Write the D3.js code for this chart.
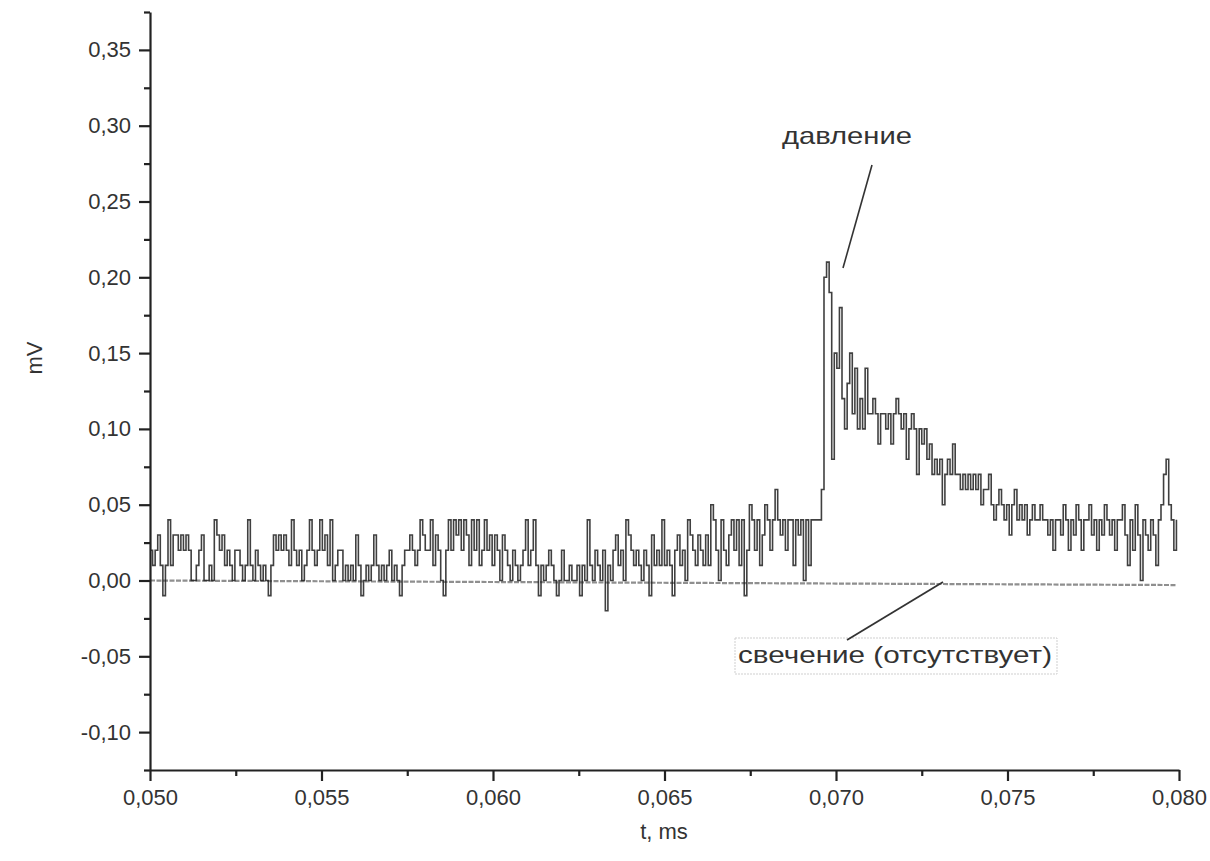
<!DOCTYPE html>
<html>
<head>
<meta charset="utf-8">
<script src="https://cdn.jsdelivr.net/npm/d3@7"></script>
<style>
  html, body { margin: 0; padding: 0; background: #ffffff; }
  svg { display: block; }
  text { font-family: "Liberation Sans", Arial, sans-serif; fill: #333333; }
</style>
</head>
<body>
<svg id="chart" width="1210" height="861"></svg>
<script>
// ---------------- data ----------------
const xDomain = [0.05, 0.08];
const yDomain = [-0.125, 0.375];
const xTickValues = [0.050, 0.055, 0.060, 0.065, 0.070, 0.075, 0.080];
const xMinorTickValues = [0.0525, 0.0575, 0.0625, 0.0675, 0.0725, 0.0775];
const yTickValues = [-0.10, -0.05, 0.00, 0.05, 0.10, 0.15, 0.20, 0.25, 0.30, 0.35];
const yMinorTickValues = [-0.125, -0.075, -0.025, 0.025, 0.075, 0.125, 0.175, 0.225, 0.275, 0.325, 0.375];

// pressure ("давление") sampled from t = 0.050 ms every 0.000075 ms
const pressureStart = 0.05;
const pressureStep = 0.000075;
const pressureValues = [
  0.02,0.01,0.02,0.03,0.01,-0.01,0.01,0.04,0.01,0.03,0.03,0.02,0.03,0.02,0.03,0.02,0.00,0.00,0.01,0.02,
  0.03,0.00,0.00,0.01,0.00,0.04,0.03,0.02,0.03,0.01,0.02,0.01,0.00,0.02,0.02,0.01,0.00,0.01,0.04,0.01,
  0.00,0.02,0.01,0.00,0.01,0.00,-0.01,0.01,0.03,0.02,0.03,0.02,0.03,0.02,0.01,0.04,0.02,0.01,0.02,0.00,
  0.01,0.02,0.04,0.02,0.01,0.02,0.04,0.02,0.03,0.01,0.04,0.00,0.01,0.02,0.02,0.00,0.01,0.00,0.01,0.00,
  0.03,0.01,-0.01,0.00,0.01,0.00,0.01,0.03,0.01,0.00,0.01,0.00,0.01,0.02,0.00,0.01,0.00,-0.01,0.01,0.02,
  0.02,0.03,0.02,0.01,0.02,0.04,0.03,0.02,0.02,0.04,0.01,0.03,0.02,0.00,-0.01,0.02,0.04,0.02,0.04,0.03,
  0.04,0.02,0.04,0.03,0.01,0.04,0.02,0.04,0.01,0.02,0.04,0.02,0.03,0.01,0.03,0.02,0.00,0.03,0.02,0.01,
  0.00,0.02,0.01,0.00,0.01,0.02,0.04,0.01,0.02,0.04,0.01,-0.01,0.01,0.00,0.01,0.02,0.01,0.00,-0.01,0.00,
  0.02,0.00,0.00,0.01,0.00,0.00,0.01,-0.01,0.01,0.00,0.04,0.01,0.00,0.02,0.01,0.00,0.02,-0.02,0.01,0.00,
  0.02,0.03,0.01,0.02,0.00,0.04,0.03,0.02,0.01,0.02,0.01,0.00,0.02,0.01,-0.01,0.03,0.01,0.02,0.01,0.04,
  0.01,0.02,0.01,-0.01,0.02,0.03,0.01,0.02,0.00,0.04,0.03,0.02,0.01,0.03,0.02,0.01,0.03,0.01,0.05,0.04,
  0.02,0.00,0.04,0.02,0.01,0.03,0.04,0.02,0.04,0.01,0.04,-0.01,0.02,0.05,0.04,0.02,0.04,0.01,0.03,0.05,
  0.04,0.02,0.04,0.06,0.04,0.03,0.04,0.02,0.04,0.04,0.01,0.04,0.03,0.04,0.00,0.04,0.01,0.04,0.04,0.04,
  0.04,0.06,0.20,0.21,0.19,0.08,0.15,0.14,0.18,0.12,0.10,0.13,0.15,0.11,0.14,0.10,0.12,0.10,0.14,0.11,
  0.11,0.12,0.11,0.09,0.11,0.11,0.10,0.11,0.09,0.11,0.12,0.11,0.10,0.11,0.08,0.10,0.11,0.10,0.07,0.10,
  0.09,0.10,0.08,0.09,0.07,0.08,0.07,0.08,0.05,0.07,0.08,0.07,0.09,0.07,0.07,0.06,0.07,0.06,0.07,0.06,
  0.07,0.06,0.07,0.05,0.06,0.06,0.07,0.05,0.04,0.05,0.06,0.05,0.04,0.05,0.03,0.05,0.06,0.04,0.05,0.04,
  0.05,0.03,0.04,0.05,0.04,0.04,0.05,0.04,0.04,0.03,0.04,0.02,0.04,0.04,0.03,0.05,0.04,0.02,0.04,0.03,
  0.05,0.04,0.02,0.04,0.04,0.05,0.03,0.04,0.02,0.04,0.03,0.05,0.04,0.03,0.04,0.02,0.04,0.04,0.05,0.03,
  0.01,0.04,0.02,0.05,0.03,0.00,0.04,0.03,0.02,0.04,0.03,0.01,0.04,0.05,0.07,0.08,0.05,0.04,0.02,0.04
];

// glow ("свечение") – flat, essentially absent
const glowTimes  = [0.0500, 0.0600, 0.0700, 0.0799];
const glowValues = [0.000, -0.001, -0.002, -0.003];

const labelPressure = "давление";
const labelGlow = "свечение (отсутствует)";
const xTitle = "t, ms";
const yTitle = "mV";

// ---------------- chart ----------------
const svg = d3.select("#chart");
const x = d3.scaleLinear().domain(xDomain).range([150, 1179]);
const y = d3.scaleLinear().domain(yDomain).range([770, 12]);

const locale = d3.formatLocale({decimal: ",", thousands: " ", grouping: [3], currency: ["", ""], minus: "-"});
const fx = locale.format(".3f");
const fy = locale.format(".2f");

const axisColor = "#222222";
const fontSize = 22;

// glow line
const glowData = glowTimes.map((t, i) => [t, glowValues[i]]);
svg.append("path")
  .datum(glowData)
  .attr("fill", "none")
  .attr("stroke", "#8f8f8f")
  .attr("stroke-width", 2.2)
  .attr("stroke-dasharray", "5,1.5")
  .attr("d", d3.line().x(d => x(d[0])).y(d => y(d[1])));

// pressure line
const pressureData = pressureValues.map((v, i) => [pressureStart + i * pressureStep, v]);
svg.append("path")
  .datum(pressureData)
  .attr("fill", "none")
  .attr("stroke", "#1e1e1e")
  .attr("stroke-opacity", 0.85)
  .attr("stroke-width", 1.6)
  .attr("d", d3.line().curve(d3.curveStepAfter).x(d => x(d[0])).y(d => y(d[1])));

// axes
function styleAxis(g) {
  g.selectAll("path.domain").attr("stroke", axisColor).attr("stroke-width", 2.2);
  g.selectAll(".tick line").attr("stroke", axisColor).attr("stroke-width", 2.2);
  g.selectAll(".tick text").attr("font-size", fontSize).attr("fill", "#333333")
    .attr("font-family", "'Liberation Sans', Arial, sans-serif");
}

const gx = svg.append("g").attr("transform", "translate(0,770)")
  .call(d3.axisBottom(x).tickValues(xTickValues).tickFormat(fx).tickSize(11).tickSizeOuter(0).tickPadding(8));
styleAxis(gx);
const gxm = svg.append("g").attr("transform", "translate(0,770)")
  .call(d3.axisBottom(x).tickValues(xMinorTickValues).tickFormat("").tickSize(6).tickSizeOuter(0));
gxm.select("path.domain").remove();
styleAxis(gxm);

const gy = svg.append("g").attr("transform", "translate(150,0)")
  .call(d3.axisLeft(y).tickValues(yTickValues).tickFormat(fy).tickSize(11).tickSizeOuter(0).tickPadding(8));
styleAxis(gy);
const gym = svg.append("g").attr("transform", "translate(150,0)")
  .call(d3.axisLeft(y).tickValues(yMinorTickValues).tickFormat("").tickSize(6).tickSizeOuter(0));
gym.select("path.domain").remove();
styleAxis(gym);

// axis titles
svg.append("text")
  .attr("x", 664).attr("y", 833)
  .attr("text-anchor", "middle").attr("dominant-baseline", "middle")
  .attr("font-size", fontSize)
  .text(xTitle);

svg.append("text")
  .attr("transform", "translate(36,358) rotate(-90)")
  .attr("text-anchor", "middle").attr("dominant-baseline", "middle")
  .attr("font-size", fontSize)
  .text(yTitle);

// annotations
svg.append("text")
  .attr("x", 847).attr("y", 138)
  .attr("text-anchor", "middle").attr("dominant-baseline", "middle")
  .attr("font-size", 24)
  .attr("textLength", 130).attr("lengthAdjust", "spacingAndGlyphs")
  .text(labelPressure);
svg.append("line")
  .attr("x1", 872).attr("y1", 165).attr("x2", 843).attr("y2", 268)
  .attr("stroke", "#333").attr("stroke-width", 1.6);

svg.append("rect")
  .attr("x", 735).attr("y", 638).attr("width", 322).attr("height", 36)
  .attr("fill", "none").attr("stroke", "#cfcfcf").attr("stroke-width", 1)
  .attr("stroke-dasharray", "2,1");
svg.append("text")
  .attr("x", 895).attr("y", 657)
  .attr("text-anchor", "middle").attr("dominant-baseline", "middle")
  .attr("font-size", 24)
  .attr("textLength", 314).attr("lengthAdjust", "spacingAndGlyphs")
  .text(labelGlow);
svg.append("line")
  .attr("x1", 847).attr("y1", 640).attr("x2", 943).attr("y2", 582)
  .attr("stroke", "#333").attr("stroke-width", 1.8);
</script>
</body>
</html>
